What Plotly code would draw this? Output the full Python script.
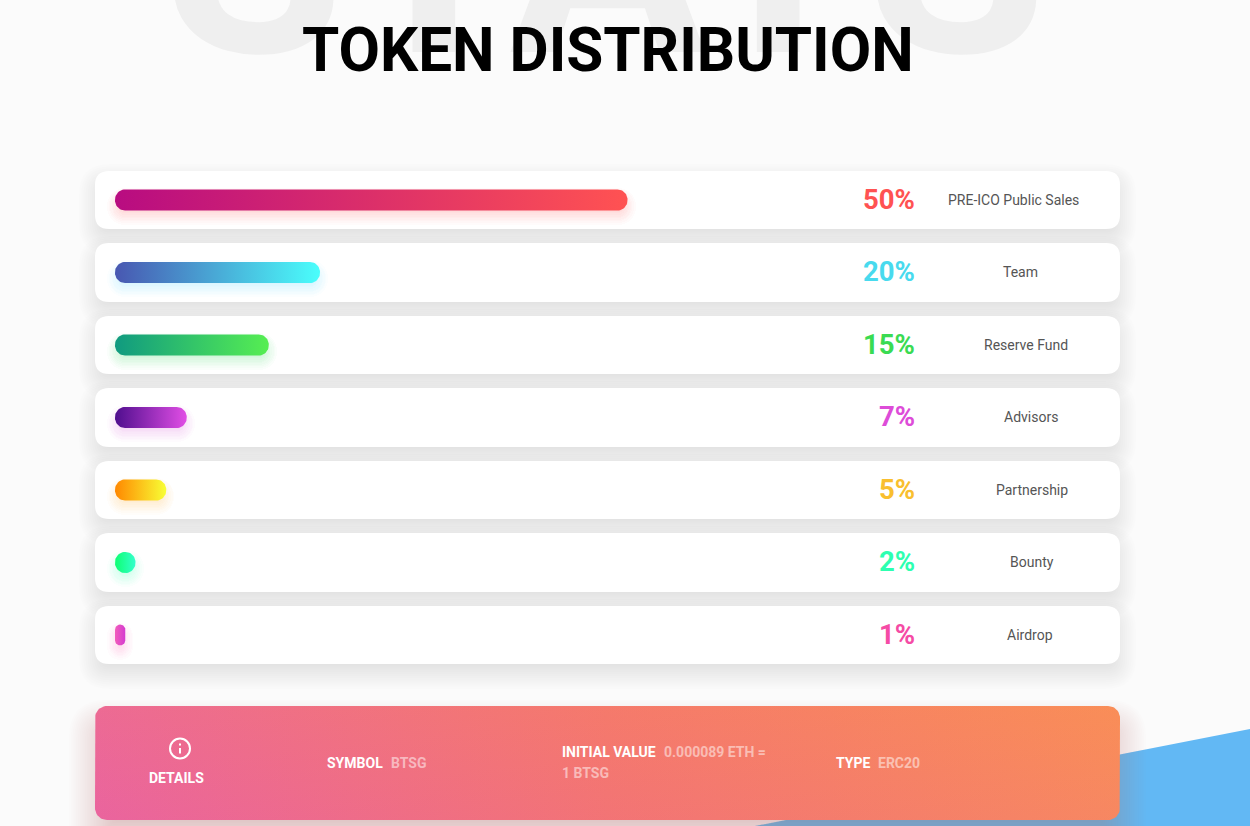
# Token distribution panel - gradient pills on white cards

import math

import plotly.graph_objects as go

# data
CATEGORIES = ["PRE-ICO Public Sales", "Team", "Reserve Fund", "Advisors", "Partnership", "Bounty", "Airdrop"]
PERCENTS = [50, 20, 15, 7, 5, 2, 1]
START_COLORS = ["#B80C81", "#4857B1", "#109A80", "#4F0E8E", "#FF8800", "#0EFF72", "#F25EBB"]
END_COLORS = ["#FF5252", "#4AFEFC", "#56EE52", "#E14EE5", "#F8FF35", "#33FFCC", "#D43AD0"]
TEXT_COLORS = ["#FF5252", "#48DAEE", "#3ADB52", "#DD4CD8", "#F9BF2F", "#2DFFB0", "#F54BA5"]
LABEL_CENTERS = [1013, 1020, 1026, 1031, 1032, 1031.5, 1030]
CARD_TOPS = [171, 243, 316, 388, 461, 533, 606]
CARD_BOTTOMS = [229, 302, 374, 447, 519, 592, 664]

W, H = 1250, 826
PX_PER_PCT = 10.25
ROW_TOP, ROW_STEP = 200, 72.5
BAR_H = 21
ROWS = list(range(len(CATEGORIES)))


def hex_rgb(c):
    return tuple(int(c[i:i + 2], 16) for i in (1, 3, 5))


def rgba(c, alpha):
    return "rgba(%d,%d,%d,%.4f)" % (*hex_rgb(c), alpha)


def round_rect(x0, y0, x1, y1, r):
    return (f"M{x0 + r},{y0} L{x1 - r},{y0} Q{x1},{y0} {x1},{y0 + r} L{x1},{y1 - r} Q{x1},{y1} {x1 - r},{y1} "
            f"L{x0 + r},{y1} Q{x0},{y1} {x0},{y1 - r} L{x0},{y0 + r} Q{x0},{y0} {x0 + r},{y0} Z")


def box(x0, y0, x1, y1, r, fill, layer="below"):
    return dict(type="path", path=round_rect(x0, y0, x1, y1, r), fillcolor=fill,
                line=dict(width=0), xref="x2", yref="y2", layer=layer)


def blur_box(x0, y0, x1, y1, r, color, alpha, spread, dy, n):
    # stack of faint boxes standing in for a css box-shadow
    out = []
    for k in range(n):
        g = spread - 2 * spread * k / (n - 1)
        out.append(box(x0 - g, y0 - g + dy, x1 + g, y1 + g + dy, max(r + g, 2), rgba(color, alpha / n)))
    return out


def rounded_outline(x0, y0, x1, y1, rx, ry):
    xs, ys = [], []
    for cx, cy, a0 in [(x1 - rx, y0 + ry, -90), (x1 - rx, y1 - ry, 0), (x0 + rx, y1 - ry, 90), (x0 + rx, y0 + ry, 180)]:
        for s in range(13):
            ang = math.radians(a0 + s * 90 / 12)
            xs.append(cx + rx * math.cos(ang))
            ys.append(cy + ry * math.sin(ang))
    return xs + xs[:1], ys + ys[:1]


fig = go.Figure()

# soft glow under each pill
for k in range(9):
    grow = 8 - k * 1.6
    h = BAR_H + 2 * grow
    extra = grow / PX_PER_PCT
    fig.add_trace(go.Bar(
        y=ROWS, x=[p + 2 * extra for p in PERCENTS], base=[-extra - 1e-6] * len(ROWS),
        orientation="h", width=h / ROW_STEP, offset=(-h / 2 + 6) / ROW_STEP,
        marker=dict(color=[rgba(c, 0.025) for c in TEXT_COLORS], cornerradius=max(h / 2 - 1, 1), line=dict(width=0)),
        hoverinfo="skip", showlegend=False))

# pills, with a real horizontal gradient fill
half_h = BAR_H / 2 / ROW_STEP
for row, pct, c0, c1 in zip(ROWS, PERCENTS, START_COLORS, END_COLORS):
    r_px = min(10, pct * PX_PER_PCT / 2)
    px_, py_ = rounded_outline(0, row - half_h, pct, row + half_h, r_px / PX_PER_PCT, r_px / ROW_STEP)
    fig.add_trace(go.Scatter(
        x=px_, y=py_, mode="lines", line=dict(width=0), fill="toself",
        fillgradient=dict(type="horizontal", colorscale=[[0, c0], [1, c1]]),
        hoverinfo="skip", showlegend=False))

# bottom panel
PX0, PY0, PX1, PY1, PR = 95, 706, 1120, 820, 12
panel_x, panel_y = rounded_outline(PX0, PY0, PX1, PY1, PR, PR)

fig.add_trace(go.Scatter(
    x=panel_x, y=panel_y, xaxis="x2", yaxis="y2", mode="lines", line=dict(width=0), fill="toself",
    fillgradient=dict(type="horizontal", colorscale=[[0, "#EA649E"], [0.5, "#F4766F"], [1, "#F98D58"]]),
    hoverinfo="skip", showlegend=False))
# slight tilt of the gradient: warmer along the top, pinker along the bottom
fig.add_trace(go.Scatter(
    x=panel_x, y=panel_y, xaxis="x2", yaxis="y2", mode="lines", line=dict(width=0), fill="toself",
    fillgradient=dict(type="vertical", colorscale=[[0, "rgba(233,100,158,0.14)"], [1, "rgba(251,145,83,0.14)"]]),
    hoverinfo="skip", showlegend=False))

shapes = [
    dict(type="path", path=f"M755,{H} L{W},729 L{W},{H} Z", fillcolor="#62B8F4", line=dict(width=0),
         xref="x2", yref="y2", layer="below"),
]
for top, bottom in zip(CARD_TOPS, CARD_BOTTOMS):
    shapes += blur_box(95, top, 1120, bottom, 14, "#000000", 0.12, 16, 9, 16)
    shapes.append(box(95, top, 1120, bottom, 14, "#FFFFFF"))
shapes += blur_box(PX0, PY0, PX1, PY1, PR, "#D9709A", 0.42, 26, 20, 30)

# info icon
shapes.append(dict(type="circle", x0=170, y0=738.5, x1=190, y1=758.5, xref="x2", yref="y2",
                   line=dict(color="#FFFFFF", width=2), fillcolor="rgba(0,0,0,0)"))
shapes.append(dict(type="line", x0=180, y0=748, x1=180, y1=753.5, xref="x2", yref="y2",
                   line=dict(color="#FFFFFF", width=2)))
shapes.append(dict(type="line", x0=180, y0=743.5, x1=180, y1=745.5, xref="x2", yref="y2",
                   line=dict(color="#FFFFFF", width=2)))

FONT = "Roboto"


def note(x, y, text, size, color, anchor="left", weight=400, yanchor="middle"):
    return dict(x=x, y=y, xref="x2", yref="y2", text=text, showarrow=False, xanchor=anchor, yanchor=yanchor,
                font=dict(family=FONT, size=size, color=color, weight=weight), borderpad=0, borderwidth=0)


annotations = [
    note(605, 123, "STATS", 292, "#EFEFEF", "center", 700, "bottom"),
    note(607.5, 50.5, "TOKEN DISTRIBUTION", 60.2, "#000000", "center", 700),
]
for i, cat in enumerate(CATEGORIES):
    nudge = 1 if i % 2 else 0
    annotations.append(dict(x=917, y=i, xref="x2", yref="y", text=f"{PERCENTS[i]}%", showarrow=False, xanchor="right",
                            yanchor="middle", yshift=1, font=dict(family=FONT, size=27.5, color=TEXT_COLORS[i], weight=700)))
    annotations.append(dict(x=LABEL_CENTERS[i], y=i, xref="x2", yref="y", text=cat, showarrow=False, xanchor="center",
                            yanchor="middle", yshift=nudge, font=dict(family=FONT, size=14, color="#555555")))

FADED = "rgba(255,255,255,0.5)"
annotations += [
    note(176.5, 778, "DETAILS", 14, "#FFFFFF", "center", 700),
    note(327, 763, "SYMBOL", 14, "#FFFFFF", weight=700),
    note(391, 763, "BTSG", 14, FADED, weight=700),
    note(562, 752, "INITIAL VALUE", 14, "#FFFFFF", weight=700),
    note(664, 752, "0.000089 ETH =", 14, FADED, weight=700),
    note(562, 773, "1 BTSG", 14, FADED, weight=700),
    note(836, 763, "TYPE", 14, "#FFFFFF", weight=700),
    note(878, 763, "ERC20", 14, FADED, weight=700),
]

fig.update_layout(
    width=W, height=H, autosize=False, margin=dict(l=0, r=0, t=0, b=0, pad=0),
    paper_bgcolor="#FBFBFB", plot_bgcolor="rgba(0,0,0,0)", barmode="overlay", bargap=0,
    xaxis=dict(visible=False, range=[-115 / PX_PER_PCT, (W - 115) / PX_PER_PCT], fixedrange=True),
    yaxis=dict(visible=False, range=[(H - ROW_TOP) / ROW_STEP, -ROW_TOP / ROW_STEP], fixedrange=True),
    xaxis2=dict(visible=False, range=[0, W], overlaying="x", fixedrange=True),
    yaxis2=dict(visible=False, range=[H, 0], overlaying="y", fixedrange=True),
    shapes=shapes, annotations=annotations, showlegend=False,
)

fig.write_html("out.html", config={"displayModeBar": False},
               post_script="document.body.style.margin='0';document.body.style.overflow='hidden';")
